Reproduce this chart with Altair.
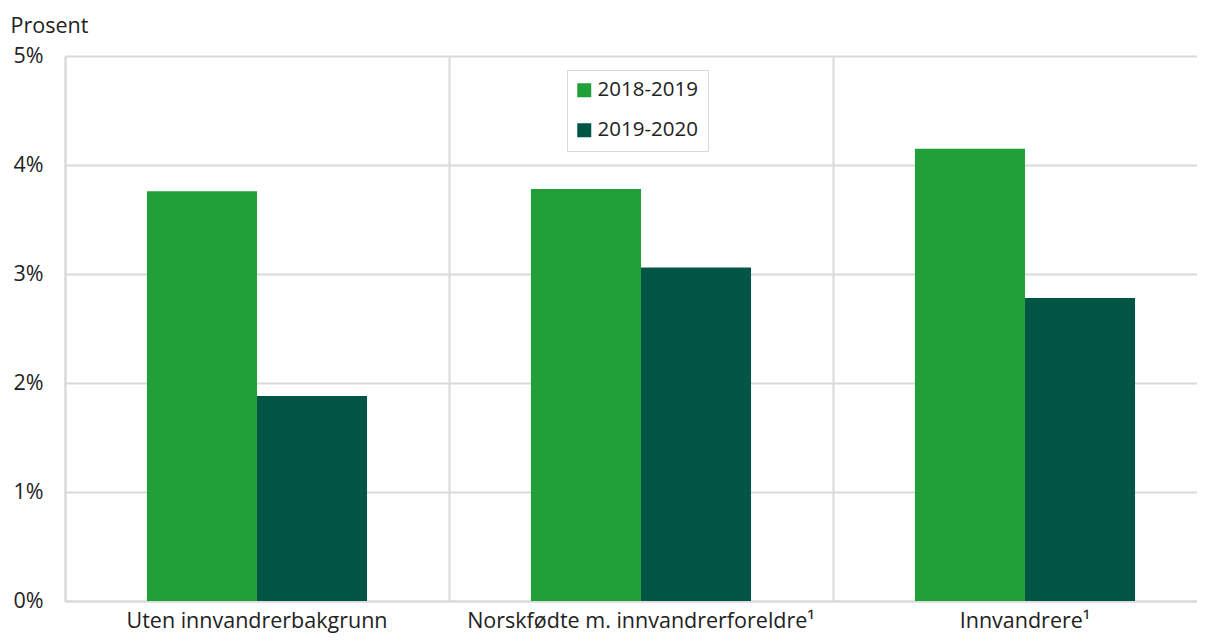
import altair as alt
import pandas as pd

categories = ["Uten innvandrerbakgrunn", "Norskfødte m. innvandrerforeldre¹", "Innvandrere¹"]
periods = ["2018-2019", "2019-2020"]
values_2018_2019 = [3.76, 3.78, 4.15]
values_2019_2020 = [1.88, 3.06, 2.78]
y_ticks = [0, 1, 2, 3, 4, 5]
colors = ["#21a03a", "#005545"]

rows = []
for c, a, b in zip(categories, values_2018_2019, values_2019_2020):
    rows.append({"kategori": c, "periode": periods[0], "verdi": a})
    rows.append({"kategori": c, "periode": periods[1], "verdi": b})
df = pd.DataFrame(rows)

FONT = "Open Sans"
GRID = "#d9d9d9"
TEXT = "#222222"
AX_FS = 21.5
LEG_FS = 20.5

xscale = alt.Scale(domain=categories, paddingInner=0, paddingOuter=0, range=[0, 1152])
yscale = alt.Scale(domain=[0, 5])

base = alt.Chart(df)

bars = base.mark_bar().encode(
    x=alt.X(
        "kategori:N", scale=xscale, sort=categories,
        axis=alt.Axis(orient="bottom", labelAngle=0, labelFontSize=AX_FS, labelFont=FONT,
                      labelColor=TEXT, labelPadding=26, labelBaseline="alphabetic",
                      labelLimit=0, ticks=False, domain=True,
                      domainColor=GRID, domainWidth=2, grid=False, title=None),
    ),
    xOffset=alt.XOffset(
        "periode:N", sort=periods,
        scale=alt.Scale(domain=periods, paddingInner=0, paddingOuter=0.745),
    ),
    y=alt.Y(
        "verdi:Q", scale=yscale,
        axis=alt.Axis(values=y_ticks, labelExpr="datum.value + '%'", title="Prosent",
                      titleAngle=0, titleAlign="left", titleBaseline="alphabetic",
                      titleX=-55, titleY=-24, titleFontSize=AX_FS, titleFont=FONT,
                      titleFontWeight="normal", titleColor=TEXT,
                      grid=True, gridColor=GRID, gridWidth=2, domain=True,
                      domainColor=GRID, domainWidth=2, ticks=False, labelPadding=22,
                      labelFontSize=AX_FS, labelFont=FONT, labelColor=TEXT),
    ),
    color=alt.Color(
        "periode:N", scale=alt.Scale(domain=periods, range=colors),
        legend=alt.Legend(title=None, orient="none", legendX=502, legendY=14,
                          symbolType="square", symbolSize=196, symbolStrokeWidth=0,
                          symbolOffset=-3,
                          labelFontSize=LEG_FS, labelFont=FONT, labelColor=TEXT,
                          labelOffset=3, rowPadding=19, padding=10,
                          strokeColor=GRID, fillColor="white"),
    ),
)

grid_layer = base.mark_bar(opacity=0).encode(
    x=alt.X(
        "kategori:N", scale=xscale, sort=categories,
        axis=alt.Axis(orient="top", values=categories[:2], tickBand="extent", grid=True,
                      gridColor=GRID, gridWidth=2, labels=False, ticks=False,
                      domain=False, title=None),
    ),
    y=alt.Y("verdi:Q", scale=yscale),
)

chart = alt.layer(bars, grid_layer).resolve_axis(x="independent").properties(
    width=1132, height=545,
    autosize=alt.AutoSizeParams(type="none"),
    padding={"left": 57, "top": 48, "right": 0, "bottom": 32},
).configure_view(strokeWidth=0)

chart.save("out.html", embed_options={"renderer": "svg", "actions": False})
